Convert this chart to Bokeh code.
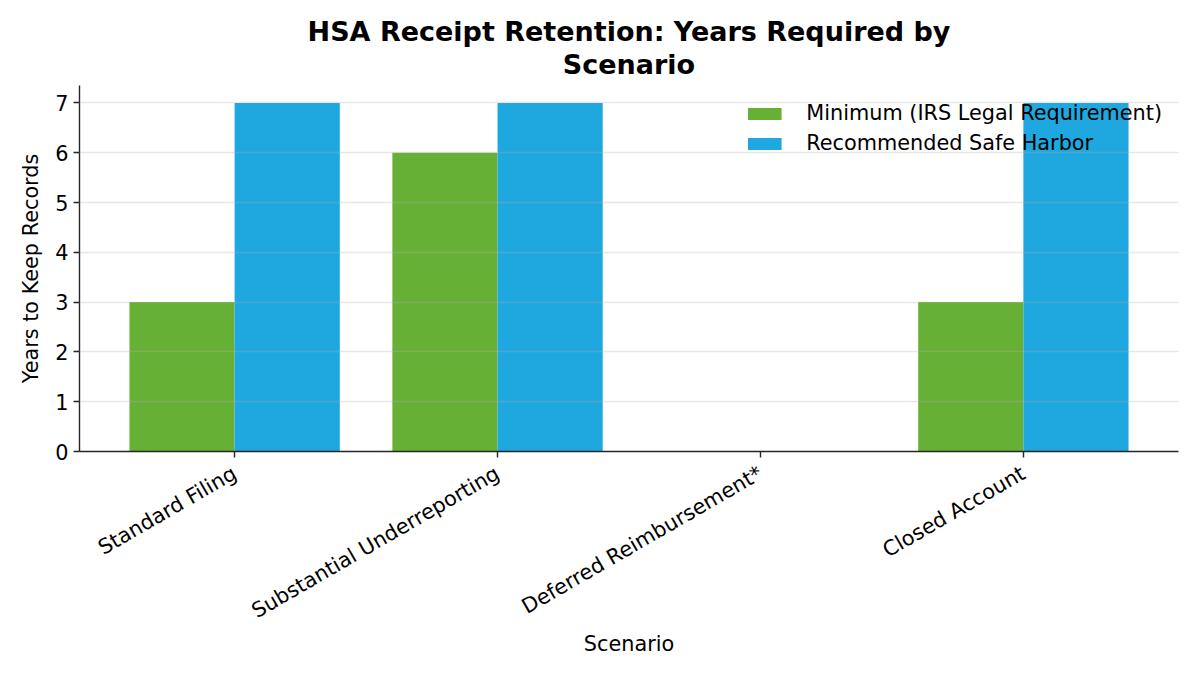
import math

from bokeh.plotting import figure
from bokeh.models import Range1d, FixedTicker, Legend, LegendItem, Title
from bokeh.embed import file_html
from bokeh.resources import INLINE

# data
scenarios = ["Standard Filing", "Substantial Underreporting",
             "Deferred Reimbursement*", "Closed Account"]
minimum_years = [3, 6, 0, 3]
safe_harbor_years = [7, 7, 0, 7]
y_ticks = [0, 1, 2, 3, 4, 5, 6, 7]
title_lines = ["HSA Receipt Retention: Years Required by", "Scenario"]

green = "#66b036"
blue = "#1ea8df"
font = "DejaVu Sans"
label_size = "20.8px"

idx = list(range(len(scenarios)))
bar_w = 0.4

p = figure(width=1184, height=659, output_backend="svg", toolbar_location=None,
           x_range=Range1d(-0.59, 3.59), y_range=Range1d(0, 7.35),
           min_border_left=79, min_border_right=6,
           min_border_top=85, min_border_bottom=208)

#two centred title lines (an added Title sits nearer the frame)
p.title.text = title_lines[0]
bottom_line = Title(text=title_lines[1])
for t in (p.title, bottom_line):
    t.align = "center"
    t.text_font = font
    t.text_font_size = "27px"
    t.text_font_style = "bold"
    t.text_color = "black"
p.title.standoff = -13
bottom_line.standoff = 12
p.add_layout(bottom_line, "above")

r_min = p.vbar(x=[i - bar_w / 2 for i in idx], top=minimum_years, width=bar_w,
               color=green, line_color=None)
r_safe = p.vbar(x=[i + bar_w / 2 for i in idx], top=safe_harbor_years, width=bar_w,
                color=blue, line_color=None)

#axes
p.xaxis.ticker = FixedTicker(ticks=idx)
p.xaxis.major_label_overrides = {i: s for i, s in zip(idx, scenarios)}
p.xaxis.major_label_orientation = math.pi / 6
p.xaxis.major_label_standoff = 14
p.xaxis.axis_label_standoff = -4
p.yaxis.ticker = FixedTicker(ticks=y_ticks)
p.yaxis.axis_label_standoff = 9
p.xaxis.axis_label = "Scenario"
p.yaxis.axis_label = "Years to Keep Records"

for ax in (p.xaxis, p.yaxis):
    ax.axis_line_color = "#262626"
    ax.axis_line_width = 1.4
    ax.major_tick_line_color = "#262626"
    ax.major_tick_line_width = 1.4
    ax.major_tick_out = 6
    ax.major_tick_in = 0
    ax.minor_tick_line_color = None
    ax.major_label_text_font = font
    ax.major_label_text_font_size = label_size
    ax.major_label_text_color = "black"
    ax.axis_label_text_font = font
    ax.axis_label_text_font_size = label_size
    ax.axis_label_text_font_style = "normal"
    ax.axis_label_text_color = "black"

p.outline_line_color = None
p.xgrid.grid_line_color = None
p.ygrid.grid_line_color = "#b0b0b0"
p.ygrid.grid_line_alpha = 0.3
p.ygrid.grid_line_width = 1.4
p.ygrid.level = "overlay"

#legend without frame
legend = Legend(items=[LegendItem(label="Minimum (IRS Legal Requirement)", renderers=[r_min]),
                       LegendItem(label="Recommended Safe Harbor", renderers=[r_safe])],
                location="top_right")
legend.background_fill_alpha = 0
legend.border_line_alpha = 0
legend.glyph_width = 42
legend.glyph_height = 15
legend.label_text_font = font
legend.label_text_font_size = label_size
legend.label_text_color = "black"
legend.label_standoff = 21
legend.spacing = 6
legend.margin = 10
legend.padding = 6
p.add_layout(legend)

open("out.html", "w").write(file_html(p, INLINE))
